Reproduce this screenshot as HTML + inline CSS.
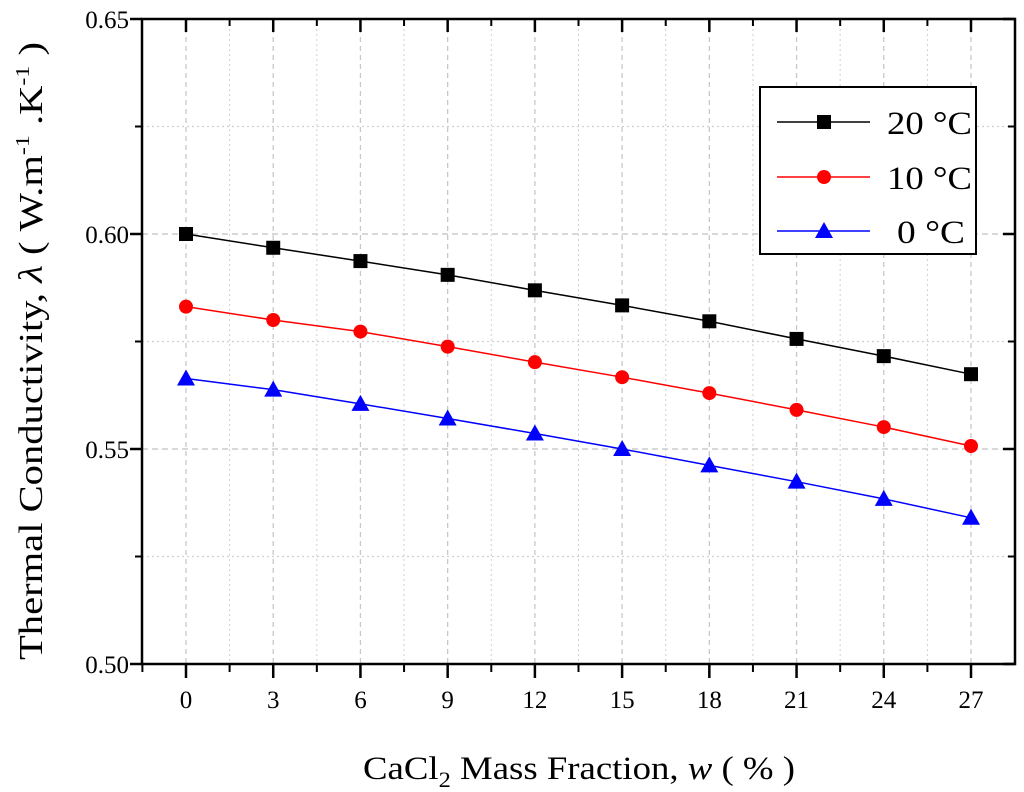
<!DOCTYPE html>
<html><head><meta charset="utf-8"><style>
body{margin:0;background:#fff}
svg{display:block;font-family:"Liberation Serif",serif}
</style></head><body>
<svg id="c" width="1024" height="792" viewBox="0 0 1024 792"></svg>
<script>
const xCats=[0,3,6,9,12,15,18,21,24,27];
const s20=[0.6000,0.5968,0.5937,0.5905,0.5869,0.5834,0.5797,0.5756,0.5716,0.5674];
const s10=[0.5831,0.5800,0.5773,0.5738,0.5702,0.5667,0.5630,0.5591,0.5551,0.5507];
const s0=[0.5664,0.5638,0.5605,0.5571,0.5536,0.5500,0.5462,0.5424,0.5384,0.5340];
const yTicks=[0.50,0.55,0.60,0.65];
const yTickLabels=["0.50","0.55","0.60","0.65"];
const L=142,R=1015,T=19,B=664;
const X=v=>186+(v)*(971-186)/27;
const Y=v=>B-(v-0.5)/(0.15)*(B-T);
const svg=document.getElementById('c');
const NS='http://www.w3.org/2000/svg';
function el(t,a,p){const e=document.createElementNS(NS,t);for(const k in a)e.setAttribute(k,a[k]);(p||svg).appendChild(e);return e;}
for(let i=0;i<xCats.length;i++){
 let g=el('line',{x1:X(xCats[i]),x2:X(xCats[i]),y1:T,y2:B,stroke:'#c8c8c8','stroke-width':1.3,'stroke-dasharray':'5,4'});
 
 
 let m=el('line',{x1:X(xCats[i]+1.5),x2:X(xCats[i]+1.5),y1:T,y2:B,stroke:'#d0d0d0','stroke-width':1,'stroke-dasharray':'2,3'});
 
 
}
for(let v=0.525;v<0.65;v+=0.025){
 const major=Math.abs((v*1000)%50)<1||Math.abs((v*1000)%50-50)<1;
 let g=el('line',{x1:L,x2:R,y1:Y(v),y2:Y(v),stroke:major?'#c0c0c0':'#d0d0d0','stroke-width':1.3,'stroke-dasharray':major?'6,4':'2,3'});
 
 
}
let fr=el('rect',{x:L,y:T,width:R-L,height:B-T,fill:'none',stroke:'#000','stroke-width':2.5});


for(let i=0;i<xCats.length;i++){
 const x=X(xCats[i]);
 el('line',{x1:x,x2:x,y1:B,y2:B+14,stroke:'#000','stroke-width':2.5});
 el('line',{x1:x,x2:x,y1:T,y2:T+13,stroke:'#000','stroke-width':2.5});
 const xm=X(xCats[i]+1.5);
 if(xCats[i]+1.5<28.5){el('line',{x1:xm,x2:xm,y1:B,y2:B+8,stroke:'#000','stroke-width':2});el('line',{x1:xm,x2:xm,y1:T,y2:T+7,stroke:'#000','stroke-width':2});}
 const t=el('text',{x:x,y:B+44,'text-anchor':'middle','font-size':25});t.textContent=xCats[i];
 
 
}
el('line',{x1:X(-1.5),x2:X(-1.5),y1:B,y2:B+8,stroke:'#000','stroke-width':2});
for(let i=0;i<yTicks.length;i++){
 const y=Y(yTicks[i]);
 el('line',{x1:L-12,x2:L,y1:y,y2:y,stroke:'#000','stroke-width':2.5});
 el('line',{x1:R-12,x2:R,y1:y,y2:y,stroke:'#000','stroke-width':2.5});
 const t=el('text',{x:L-13,y:y+9,'text-anchor':'end','font-size':25});t.textContent=yTickLabels[i];
 
 
}
for(let v=0.525;v<0.65;v+=0.05){const y=Y(v);el('line',{x1:L-7,x2:L,y1:y,y2:y,stroke:'#000','stroke-width':2});el('line',{x1:R-7,x2:R,y1:y,y2:y,stroke:'#000','stroke-width':2});}
function marker(type,x,y,c,g){
 let m;
 if(type==='sq')m=el('rect',{x:x-7,y:y-7,width:14,height:14,fill:c},g);
 else if(type==='ci')m=el('circle',{cx:x,cy:y,r:7,fill:c},g);
 else m=el('polygon',{points:`${x},${y-9} ${x-9},${y+7} ${x+9},${y+7}`,fill:c},g);
 return m;
}
const series=[[s20,'#000','sq','series-20c'],[s10,'#ff0000','ci','series-10c'],[s0,'#0000ff','tr','series-0c']];
series.forEach(([d,c,t,n])=>{
 const g=el('g',{});
 
 
 el('polyline',{points:d.map((v,i)=>X(xCats[i])+','+Y(v)).join(' '),fill:'none',stroke:c,'stroke-width':1.5},g);
 d.forEach((v,i)=>{const m=marker(t,X(xCats[i]),Y(v),c,g);
  
  });
});
const lg=el('g',{});


el('rect',{x:760,y:87,width:216,height:167,fill:'#fff',stroke:'#000','stroke-width':2},lg);
const labs=['20 °C','10 °C','0 °C'];
[122,177,231].forEach((y,i)=>{
 const [d,c,t]=series[i];
 const e=el('g',{},lg);
 
 
 el('line',{x1:777,x2:870,y1:y,y2:y,stroke:c,'stroke-width':1.5},e);
 marker(t,824,y,c,e);
 const tx=el('text',{x:i==2?897:887,y:y+12,'font-size':33,textLength:i==2?68:85,lengthAdjust:'spacingAndGlyphs'},e);tx.textContent=labs[i];
});
const xt=el('text',{x:363,y:779,'font-size':33,textLength:432,lengthAdjust:'spacingAndGlyphs'});


xt.innerHTML='CaCl<tspan font-size="22" dy="8">2</tspan><tspan dy="-8"> Mass Fraction, </tspan><tspan font-style="italic">w</tspan> ( % )';
const yt=el('text',{x:0,y:0,'font-size':34,transform:'translate(42,660) rotate(-90)',textLength:618,lengthAdjust:'spacingAndGlyphs'});


yt.innerHTML='Thermal Conductivity, <tspan font-style="italic">λ</tspan> ( W.m<tspan font-size="20" dy="-13">-1</tspan><tspan dy="13"> .K</tspan><tspan font-size="20" dy="-13">-1</tspan><tspan dy="13"> )</tspan>';
</script>
</body></html>
